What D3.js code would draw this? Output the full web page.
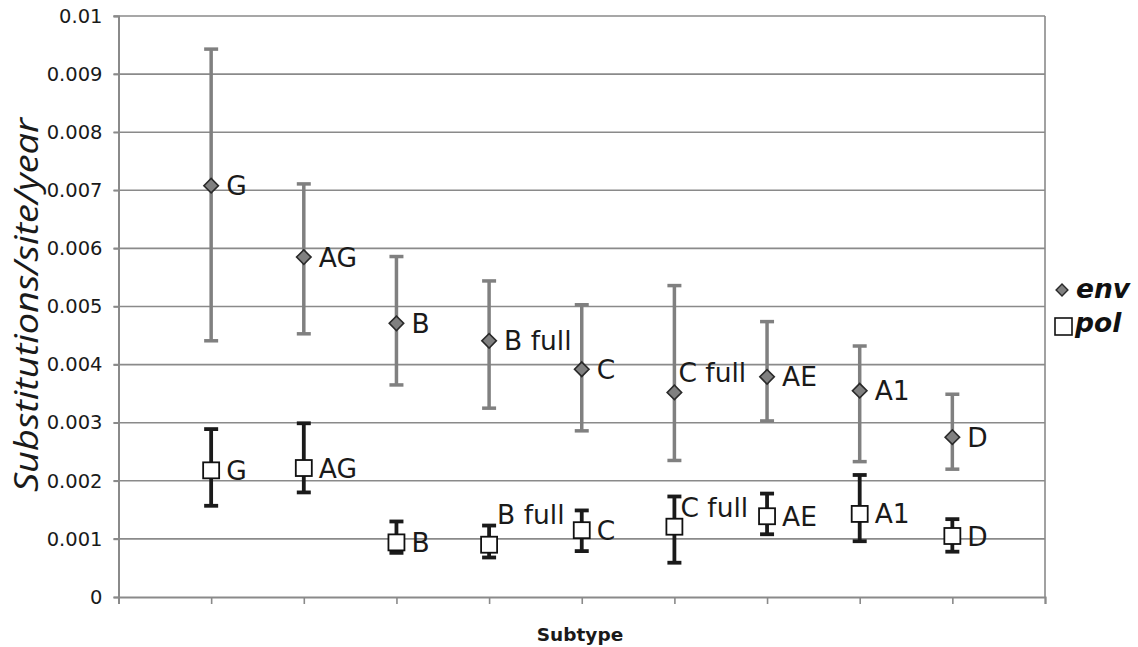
<!DOCTYPE html>
<html><head><meta charset="utf-8">
<script src="https://cdn.jsdelivr.net/npm/d3@7"></script>
<style>
html,body{margin:0;padding:0;background:#fff;}
svg{display:block;}
</style></head>
<body>
<svg id="chart" width="1138" height="647"></svg>
<script>
const categories = ["G","AG","B","B full","C","C full","AE","A1","D"];
const envMean  = [0.00708,0.00585,0.00471,0.00441,0.00392,0.00352,0.00379,0.00355,0.00275];
const envUpper = [0.00943,0.00711,0.00586,0.00544,0.00503,0.00536,0.00474,0.00432,0.00349];
const envLower = [0.00441,0.00453,0.00365,0.00325,0.00286,0.00235,0.00303,0.00233,0.00220];
const polMean  = [0.00218,0.00222,0.00094,0.00090,0.00115,0.00121,0.00139,0.00143,0.00105];
const polUpper = [0.00289,0.00299,0.00130,0.00123,0.00149,0.00173,0.00178,0.00210,0.00134];
const polLower = [0.00157,0.00180,0.00076,0.00068,0.00079,0.00059,0.00108,0.00096,0.00078];
const yTicks = [0,0.001,0.002,0.003,0.004,0.005,0.006,0.007,0.008,0.009,0.01];
const yTickLabels = ["0","0.001","0.002","0.003","0.004","0.005","0.006","0.007","0.008","0.009","0.01"];
const seriesNames = ["env","pol"];

// label nudges (layout only)
const envLabelNudge = {"C full":[-11,-20]};
const polLabelNudge = {"B full":[-7,-30],"C full":[-9,-19]};

const svg = d3.select("#chart");
const L=118.5, R=1045, T=16, B=597;
const x = d3.scaleLinear().domain([0, categories.length+1]).range([L,R]);
const y = d3.scaleLinear().domain([0,0.01]).range([B,T]);
const gridCol="#8a8a8a", axisCol="#8a8a8a", txt="#1a1a1a";

// gridlines
svg.append("g").selectAll("line").data(yTicks.filter(d=>d>0)).join("line")
  .attr("x1",L-5).attr("x2",R).attr("y1",d=>y(d)).attr("y2",d=>y(d))
  .attr("stroke",gridCol).attr("stroke-width",1.6);
// right border
svg.append("line").attr("x1",R).attr("x2",R).attr("y1",T).attr("y2",B)
  .attr("stroke",axisCol).attr("stroke-width",1.6);

// y axis
const yAxis = d3.axisLeft(y).tickValues(yTicks).tickSize(5).tickPadding(11)
  .tickFormat((d,i)=>yTickLabels[i]);
const gy = svg.append("g").attr("transform",`translate(${L},0)`).call(yAxis);
gy.select(".domain").attr("stroke",axisCol).attr("stroke-width",2);
gy.selectAll(".tick line").attr("stroke",axisCol).attr("stroke-width",1.6);
gy.selectAll(".tick text").attr("font-family","DejaVu Sans").attr("font-size",19.5).attr("fill",txt);

// x axis
const xAxis = d3.axisBottom(x).tickValues(d3.range(0,categories.length+2)).tickSize(7).tickFormat("");
const gx = svg.append("g").attr("transform",`translate(0,${B})`).call(xAxis);
gx.select(".domain").attr("stroke",axisCol).attr("stroke-width",2);
gx.selectAll(".tick line").attr("stroke",axisCol).attr("stroke-width",1.6);

// axis titles
svg.append("text").attr("x",580).attr("y",641).attr("text-anchor","middle")
  .attr("font-family","DejaVu Sans").attr("font-weight","bold").attr("font-size",18.5)
  .attr("fill",txt).text("Subtype");
svg.append("text").attr("transform","translate(38,305) rotate(-90)").attr("text-anchor","middle")
  .attr("font-family","Open Sans").attr("font-style","italic").attr("font-size",32)
  .attr("textLength",374).attr("lengthAdjust","spacingAndGlyphs")
  .attr("fill",txt).text("Substitutions/site/year");

const px = i=>x(i+1);

// env error bars
const envG = svg.append("g");
categories.forEach((c,i)=>{
  const cx=px(i);
  envG.append("line").attr("x1",cx).attr("x2",cx).attr("y1",y(envUpper[i])).attr("y2",y(envLower[i]))
    .attr("stroke","#808080").attr("stroke-width",3.5);
  [envUpper[i],envLower[i]].forEach(v=>envG.append("line").attr("x1",cx-7).attr("x2",cx+7)
    .attr("y1",y(v)).attr("y2",y(v)).attr("stroke","#808080").attr("stroke-width",3.5));
});
// pol error bars
const polG = svg.append("g");
categories.forEach((c,i)=>{
  const cx=px(i);
  polG.append("line").attr("x1",cx).attr("x2",cx).attr("y1",y(polUpper[i])).attr("y2",y(polLower[i]))
    .attr("stroke","#1a1a1a").attr("stroke-width",3.8);
  [polUpper[i],polLower[i]].forEach(v=>polG.append("line").attr("x1",cx-7).attr("x2",cx+7)
    .attr("y1",y(v)).attr("y2",y(v)).attr("stroke","#1a1a1a").attr("stroke-width",3.8));
});

// markers
svg.append("g").selectAll("path").data(envMean).join("path")
  .attr("d",d3.symbol().type(d3.symbolSquare).size(105)())
  .attr("transform",(d,i)=>`translate(${px(i)},${y(d)}) rotate(45)`)
  .attr("fill","#808080").attr("stroke","#2a2a2a").attr("stroke-width",1.6);
svg.append("g").selectAll("rect").data(polMean).join("rect")
  .attr("x",(d,i)=>px(i)-8).attr("y",d=>y(d)-8).attr("width",16).attr("height",16)
  .attr("fill","#fff").attr("stroke","#111").attr("stroke-width",1.8);

// point labels
const labelFont = {family:"DejaVu Sans", size:26.5};
svg.append("g").selectAll("text").data(categories).join("text")
  .attr("x",(c,i)=>px(i)+15+((envLabelNudge[c]||[0,0])[0]))
  .attr("y",(c,i)=>y(envMean[i])+((envLabelNudge[c]||[0,0])[1]))
  .attr("dy","0.36em").attr("font-family",labelFont.family).attr("font-size",labelFont.size)
  .attr("fill",txt).text(d=>d);
svg.append("g").selectAll("text").data(categories).join("text")
  .attr("x",(c,i)=>px(i)+15+((polLabelNudge[c]||[0,0])[0]))
  .attr("y",(c,i)=>y(polMean[i])+((polLabelNudge[c]||[0,0])[1]))
  .attr("dy","0.36em").attr("font-family",labelFont.family).attr("font-size",labelFont.size)
  .attr("fill",txt).text(d=>d);

// legend
const lg = svg.append("g");
lg.append("path").attr("d",d3.symbol().type(d3.symbolSquare).size(70)())
  .attr("transform","translate(1062,290) rotate(45)")
  .attr("fill","#808080").attr("stroke","#2a2a2a").attr("stroke-width",1.4);
lg.append("text").attr("x",1076).attr("y",298).attr("font-family","DejaVu Sans")
  .attr("font-weight","bold").attr("font-style","italic").attr("font-size",26.5).attr("fill","#111").text(seriesNames[0]);
lg.append("rect").attr("x",1055).attr("y",318).attr("width",17).attr("height",17)
  .attr("fill","#fff").attr("stroke","#111").attr("stroke-width",1.6);
lg.append("text").attr("x",1075).attr("y",332).attr("font-family","DejaVu Sans")
  .attr("font-weight","bold").attr("font-style","italic").attr("font-size",26.5).attr("fill","#111").text(seriesNames[1]);
</script>
</body></html>
